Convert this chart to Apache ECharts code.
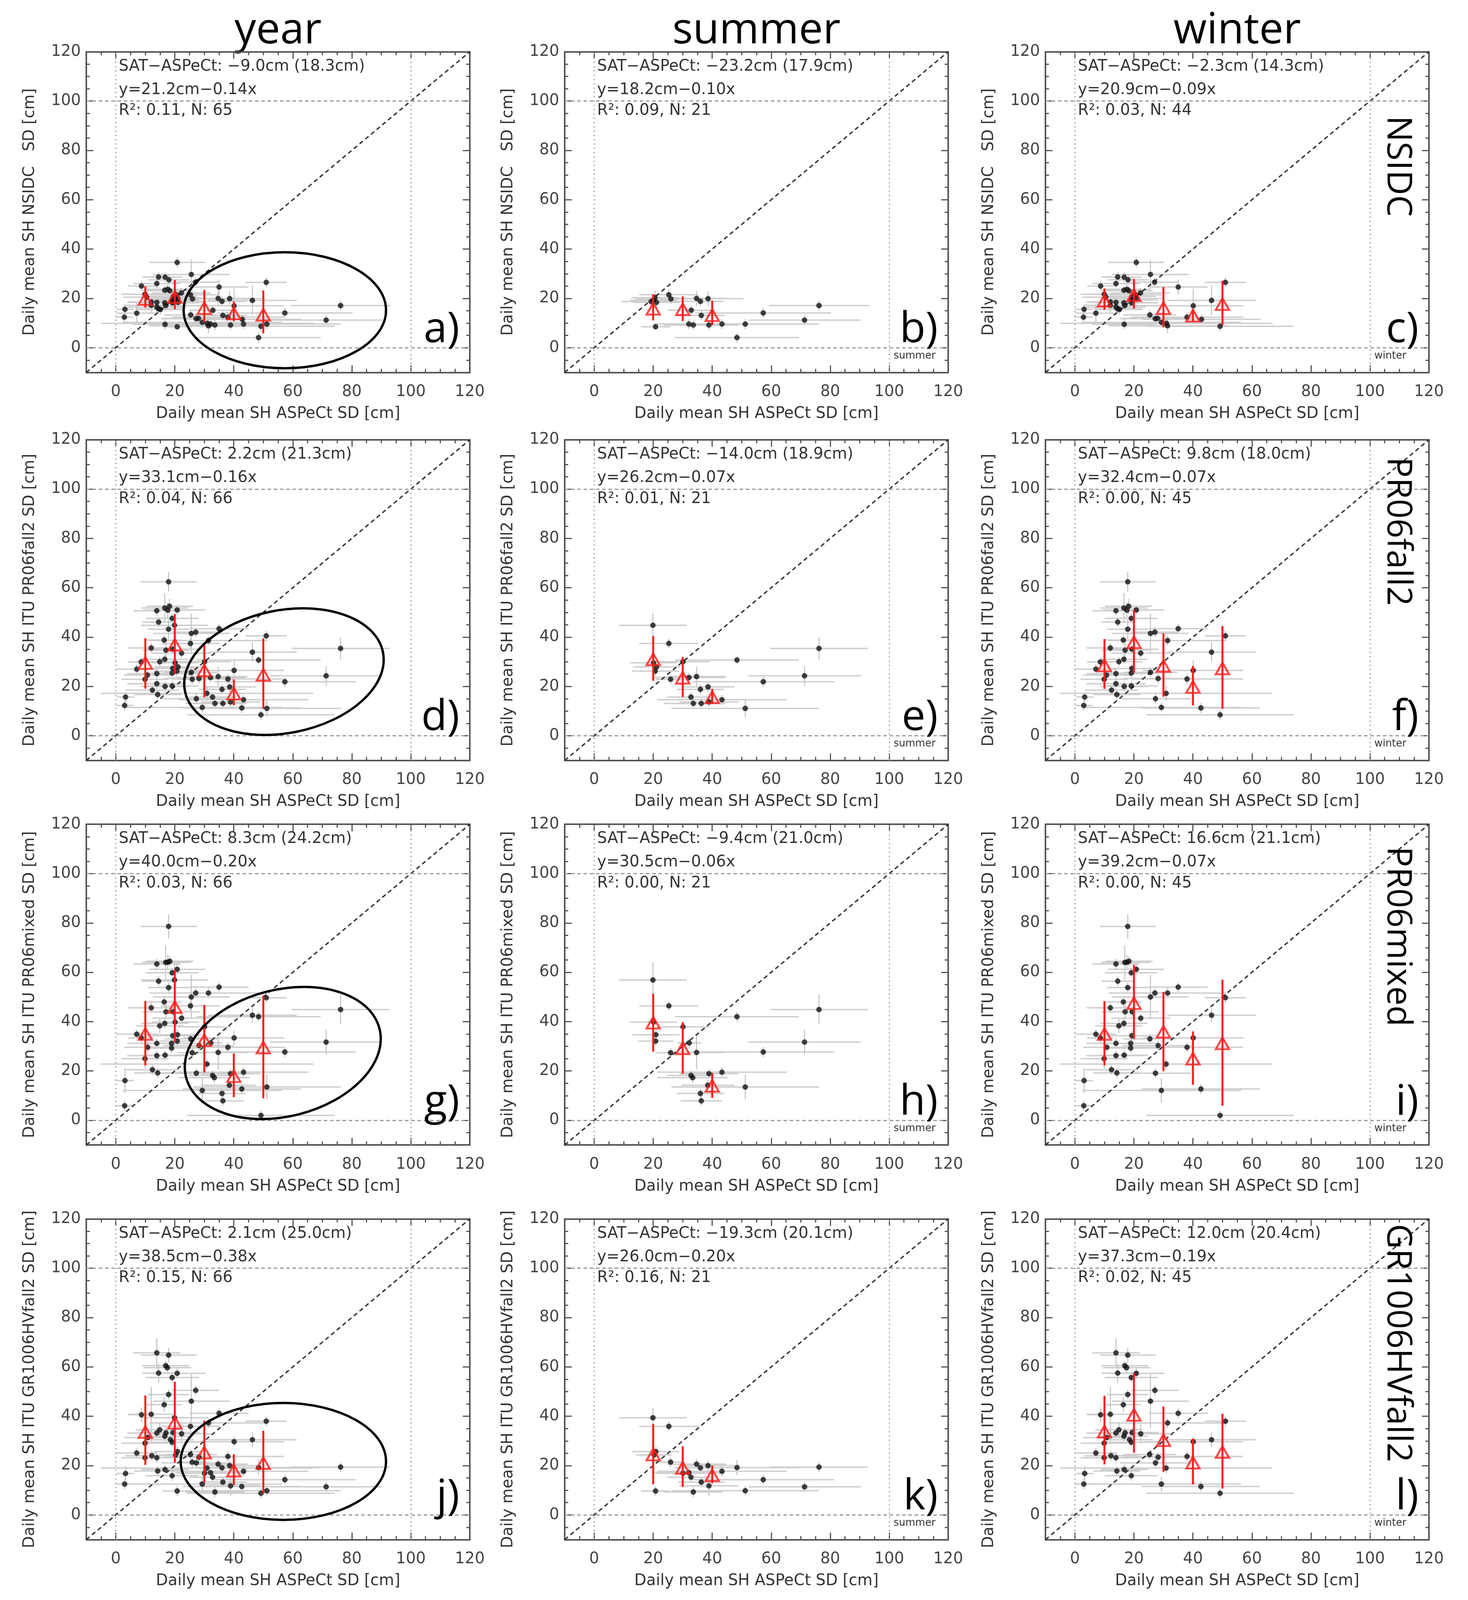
<!DOCTYPE html>
<html>
<head>
<meta charset="UTF-8">
<title>SAT vs ASPeCt snow depth</title>
<script src="https://cdn.jsdelivr.net/npm/echarts@6/dist/echarts.min.js"></script>
<style>html,body,#container{width:100%;height:100%;margin:0;padding:0;background:#fff;}</style>
</head>
<body>
<div id="container"></div>
<script>
// each point: [ASPeCt SD, SAT SD, x error, y error]  (cm)
var nsidcSummer = [[25.3,21.5,10,2],[26.0,19.8,12,2],[20.6,20.3,8,3],[19.3,18.7,10,2],[21.1,18.4,8,2],[34.7,20.0,10,3],[36.0,18.8,8,2],[38.6,19.9,12,3],[32.9,15.2,8,2],[36.3,13.1,8,2],[76.2,17.1,17,2],[57.3,14.1,23,2],[71.3,11.2,19,2],[32.1,9.6,12,2],[33.6,9.2,10,2],[38.9,9.2,10,2],[43.3,9.6,22,2],[51.2,9.6,25,2],[20.8,8.5,5,1],[48.4,4.1,21,2],[20.1,19.3,8,2]];
var nsidcWinter = [[20.8,34.6,9.5,2],[25.6,29.7,13,6],[14.5,28.7,5.5,2],[16.7,28.6,6,2],[18.0,27.5,7,2],[27.0,26.6,8,2],[51.0,26.5,7,2],[13.9,26.0,8,2],[8.7,25.0,4.5,2],[35.0,24.6,10,3],[16.6,23.3,8,2],[17.6,23.7,8,2],[18.3,23.1,8,2],[22.2,22.2,10,2],[9.9,21.7,8,2],[46.3,19.2,15,6],[12.0,18.6,8,2],[13.9,18.4,10,2],[16.6,18.2,8,2],[19.2,19.3,9,2],[19.2,18.2,9,2],[12.0,17.2,9,3],[16.9,17.1,8,2],[13.9,16.5,10,2],[14.5,15.8,8,2],[15.1,15.5,8,2],[3.1,15.6,3,2],[40.1,17.0,17,7],[7.1,14.0,7,4],[2.9,12.4,3,2],[25.4,13.3,9,2],[27.2,11.8,12,2],[28.0,11.9,12,2],[38.0,12.4,19,2],[42.9,11.5,20,2],[29.3,10.3,27,2],[31.0,9.9,36,2],[31.4,8.9,20,3],[16.7,9.5,11,2],[49.2,8.7,25,2],[10.5,20.5,8,2],[20.5,21.5,9,2],[21.0,20.0,9,2],[19.5,20.8,8,2]];

var fall2Summer = [[19.9,44.8,11.4,5],[25.3,37.4,10,2],[76.2,35.4,16.6,4.5],[48.4,30.7,21,1.5],[30.1,30.0,9,2],[21.1,27.9,8,2],[20.7,26.2,8,2],[71.3,24.3,19,4],[34.7,24.0,10,4],[32.1,23.6,12,2],[25.9,22.9,5,2],[57.3,21.9,24,2],[38.6,19.8,9,2],[36.0,18.8,8,2],[32.8,15.7,8,2],[43.3,14.6,22,2],[38.9,13.7,10,2],[33.6,13.1,10,2],[36.3,13.1,8,2],[51.2,11.1,25,3.5],[20.1,29.6,8,2]];
var fall2Winter = [[17.9,62.4,9.5,4],[16.6,51.8,8,6],[17.6,50.9,8,3],[13.9,50.7,8,2],[20.8,51.0,9.5,2],[19.1,47.6,9,2],[14.5,46.1,5.5,2],[17.9,43.2,7,4],[35.0,43.4,10,2],[25.6,41.5,13,8],[27.1,42.0,8,2],[51.0,40.5,7,2],[31.4,38.6,20,2],[16.4,38.8,6,2],[12.0,35.6,8,2],[17.0,34.7,8,3],[19.3,35.1,9,2],[22.3,33.5,10,2],[46.3,33.9,15,4],[16.6,31.0,8,2],[14.9,30.0,8,2],[8.6,29.9,4.5,2],[7.1,27.0,7,2],[19.3,27.3,9,2],[25.6,25.7,9,2],[10.7,24.6,8,2],[13.9,25.2,10,2],[19.1,25.4,9,2],[40.1,26.5,17,4],[28.2,23.2,12,2],[38.0,23.0,19,2],[9.9,22.9,8,2],[13.9,21.1,10,2],[16.7,20.0,8,2],[19.1,20.2,9,2],[12.4,18.5,9,2],[14.2,16.7,8,2],[30.9,17.2,36,3],[3.3,15.7,3,2],[27.3,15.0,12,2],[3.0,12.3,3,2],[29.3,11.5,27,2],[42.7,11.3,20,2],[49.2,8.5,25,2],[18.2,52.5,8,3]];

var mixedSummer = [[19.9,56.9,11.4,7],[25.3,46.4,10,2],[76.2,44.9,16.6,6],[48.4,42.0,21,2],[30.1,37.9,9,2],[20.9,34.7,8,2],[20.8,32.1,6,2],[32.2,31.4,4,2],[71.3,31.7,19,5],[25.9,27.4,5,2],[34.7,27.5,10,7],[57.3,27.7,24,2],[38.9,18.9,10,2],[43.3,19.5,22,2],[32.8,18.2,8,2],[33.4,17.3,12,2],[38.5,14.2,9,2],[51.2,13.5,25,5],[36.0,10.9,8,2],[36.3,7.9,7,2],[20.1,39.8,8,2]];
var mixedWinter = [[17.9,78.6,9.5,5],[13.9,63.4,8,2],[16.9,64.0,8,7],[17.6,64.1,8,3],[20.8,61.2,9.5,2],[19.1,59.8,9,2],[14.5,56.4,5.5,2],[17.9,53.8,7,2],[35.0,54.0,10,2],[27.1,51.6,8,2],[31.4,51.6,20,2],[25.6,50.0,13,9],[51.0,49.7,7,2],[16.4,48.0,6,2],[12.0,45.6,8,2],[17.0,44.0,8,3],[19.4,44.0,9,2],[22.3,41.4,10,2],[46.3,42.6,15,3],[16.6,39.3,8,2],[14.9,38.3,8,3],[7.1,34.9,7,2],[8.6,33.4,4.5,2],[19.3,34.3,9,2],[25.4,33.0,9,2],[40.1,33.4,17,3],[13.9,31.2,10,2],[18.9,31.2,9,2],[10.8,29.6,8,2],[18.9,29.3,9,2],[28.2,30.3,12,2],[38.0,29.6,19,2],[13.9,26.2,10,2],[16.7,26.4,8,2],[9.9,25.0,8,4],[30.9,22.8,36,2],[12.4,20.5,9,2],[14.2,19.2,8,2],[27.3,19.1,12,2],[3.1,16.1,3,5],[29.3,12.1,27,5],[42.7,12.7,20,2],[3.0,5.9,3,2],[49.2,2.0,25,2],[18.3,64.5,8,2]];

var grSummer = [[19.9,39.4,11.4,4],[25.3,35.9,10,2],[20.9,25.7,8,2],[20.3,24.3,6,2],[25.9,21.4,5,2],[34.7,20.6,10,2],[36.0,19.1,8,2],[38.6,20.0,9,2],[48.4,19.2,21,3],[76.2,19.4,16.6,2],[43.3,17.7,22,2],[30.1,16.9,9,2],[32.1,17.1,12,2],[32.8,15.3,8,2],[57.3,14.3,24,2],[36.3,13.3,8,2],[38.9,11.8,10,4],[71.3,11.4,19,2],[20.8,9.7,5,2],[33.6,9.3,10,2],[51.2,9.8,25,2]];
var grWinter = [[13.9,65.7,8,6],[17.9,64.8,9.5,3],[16.9,60.5,8,2],[17.5,59.7,8,2],[14.5,57.5,5.5,4],[20.8,57.4,9.5,2],[19.1,55.7,9,2],[27.1,50.5,8,2],[17.9,48.8,7,2],[25.6,46.1,13,11],[16.4,44.7,6,3],[8.7,40.6,4.5,3],[12.0,40.8,8,11],[35.0,41.2,10,2],[51.0,38.0,7,2],[31.4,37.3,20,2],[14.9,34.5,8,3],[13.9,33.2,10,2],[17.0,33.3,8,2],[16.6,31.9,8,2],[19.4,33.4,9,2],[22.3,32.9,10,4],[10.8,31.4,8,2],[9.9,29.1,8,2],[19.1,29.5,9,2],[46.3,30.5,15,3],[40.1,29.7,17,2],[7.1,25.1,7,2],[9.9,23.2,8,2],[12.2,24.0,9,2],[13.9,23.2,10,2],[25.3,24.5,9,2],[28.2,23.4,12,2],[38.0,23.7,19,2],[27.3,21.1,12,2],[30.9,19.0,36,2],[3.3,16.8,3,3],[14.2,17.8,8,2],[16.7,18.4,8,2],[19.1,15.9,9,2],[3.0,12.5,3,2],[29.3,12.5,27,3],[42.7,11.5,20,2],[49.2,8.8,25,2],[18.5,30.5,8,2]];

// binned means: [bin centre, mean, lower, upper]
var binsA = [[10,19.8,16.3,24.8],[20,20.6,15.6,27.4],[30,16.1,10.3,23.4],[40,13.9,10.8,18.7],[50,13.4,5.8,23.2]];
var binsB = [[20,15.8,11.1,21.7],[30,15.6,10.8,20.8],[40,13.2,9.2,19.1]];
var binsC = [[10,19.1,15.4,24.0],[20,21.3,15.9,27.9],[30,16.1,8.3,24.6],[40,13.0,10.6,15.6],[50,17.7,9.2,27.1]];
var binsD = [[10,29.5,19.1,39.5],[20,36.9,25.0,49.3],[30,26.5,15.6,37.7],[40,17.1,12.4,22.8],[50,24.7,10.9,39.5]];
var binsE = [[20,31.0,22.3,40.4],[30,23.5,15.7,31.9],[40,15.6,13.1,19.0]];
var binsF = [[10,28.5,19.0,39.2],[20,37.9,25.5,50.9],[30,28.3,15.8,41.5],[40,19.8,12.3,28.3],[50,27.3,10.9,44.5]];
var binsG = [[10,35.0,22.3,48.4],[20,45.9,31.7,60.8],[30,32.5,19.4,46.8],[40,17.9,9.4,27.1],[50,29.5,8.9,50.6]];
var binsH = [[20,39.6,27.8,51.3],[30,29.2,18.9,39.8],[40,14.0,9.1,19.2]];
var binsI = [[10,35.0,22.3,48.3],[20,47.5,33.0,63.0],[30,35.9,19.9,52.1],[40,25.0,14.4,36.0],[50,31.2,5.9,57.0]];
var binsJ = [[10,33.6,20.3,48.4],[20,37.4,21.2,54.0],[30,25.3,13.2,38.3],[40,18.0,12.1,24.6],[50,21.0,8.6,34.1]];
var binsK = [[20,24.5,12.4,36.9],[30,19.1,11.4,27.8],[40,16.1,12.8,20.0]];
var binsL = [[10,33.8,20.5,48.3],[20,40.6,25.2,57.4],[30,30.3,17.4,44.0],[40,21.2,12.4,30.9],[50,25.5,10.7,41.0]];

// ellipses in the year column: [cx, cy, rx, ry, tilt deg]
var ellipseA = [[57.3, 15.2, 34.3, 23.5, 0]];
var ellipseD = [[57.0, 26.0, 34.2, 24.9, 11]];
var ellipseG = [[56.6, 27.3, 33.8, 25.7, 14]];
var ellipseJ = [[56.8, 21.7, 34.8, 23.7, 0]];

var seasons = ['year', 'summer', 'winter'];
var products = ['NSIDC', 'PR06fall2', 'PR06mixed', 'GR1006HVfall2'];
var productLabelTop = [94, 113, 111, 118];
var yNames = ['Daily mean SH NSIDC   SD [cm]', 'Daily mean SH ITU PR06fall2 SD [cm]', 'Daily mean SH ITU PR06mixed SD [cm]', 'Daily mean SH ITU GR1006HVfall2 SD [cm]'];
var xName = 'Daily mean SH ASPeCt SD [cm]';
var letters = [['a)', 'b)', 'c)'], ['d)', 'e)', 'f)'], ['g)', 'h)', 'i)'], ['j)', 'k)', 'l)']];
var stats = [
  [['SAT\u2212ASPeCt: \u22129.0cm (18.3cm)', 'y=21.2cm\u22120.14x', 'R\u00b2: 0.11, N: 65'],
   ['SAT\u2212ASPeCt: \u221223.2cm (17.9cm)', 'y=18.2cm\u22120.10x', 'R\u00b2: 0.09, N: 21'],
   ['SAT\u2212ASPeCt: \u22122.3cm (14.3cm)', 'y=20.9cm\u22120.09x', 'R\u00b2: 0.03, N: 44']],
  [['SAT\u2212ASPeCt: 2.2cm (21.3cm)', 'y=33.1cm\u22120.16x', 'R\u00b2: 0.04, N: 66'],
   ['SAT\u2212ASPeCt: \u221214.0cm (18.9cm)', 'y=26.2cm\u22120.07x', 'R\u00b2: 0.01, N: 21'],
   ['SAT\u2212ASPeCt: 9.8cm (18.0cm)', 'y=32.4cm\u22120.07x', 'R\u00b2: 0.00, N: 45']],
  [['SAT\u2212ASPeCt: 8.3cm (24.2cm)', 'y=40.0cm\u22120.20x', 'R\u00b2: 0.03, N: 66'],
   ['SAT\u2212ASPeCt: \u22129.4cm (21.0cm)', 'y=30.5cm\u22120.06x', 'R\u00b2: 0.00, N: 21'],
   ['SAT\u2212ASPeCt: 16.6cm (21.1cm)', 'y=39.2cm\u22120.07x', 'R\u00b2: 0.00, N: 45']],
  [['SAT\u2212ASPeCt: 2.1cm (25.0cm)', 'y=38.5cm\u22120.38x', 'R\u00b2: 0.15, N: 66'],
   ['SAT\u2212ASPeCt: \u221219.3cm (20.1cm)', 'y=26.0cm\u22120.20x', 'R\u00b2: 0.16, N: 21'],
   ['SAT\u2212ASPeCt: 12.0cm (20.4cm)', 'y=37.3cm\u22120.19x', 'R\u00b2: 0.02, N: 45']]
];
var majorTicks = [0, 20, 40, 60, 80, 100, 120];
var oneToOne = [-10, 120];
var refLines = [0, 100];

var summerDots = [nsidcSummer, fall2Summer, mixedSummer, grSummer];
var winterDots = [nsidcWinter, fall2Winter, mixedWinter, grWinter];
var binsAll = [[binsA, binsB, binsC], [binsD, binsE, binsF], [binsG, binsH, binsI], [binsJ, binsK, binsL]];
var ellipses = [ellipseA, ellipseD, ellipseG, ellipseJ];

var chart = echarts.init(document.getElementById('container'));

// layout, designed for a 3759 x 4610 page; vertical positions follow the real page height
var sy = chart.getHeight() / 4610;
var gridLeft = [221, 1446, 2677];
var gridTop = [149, 1267, 2375, 3512];
var gridW = 982, gridH = 924;
var axisColor = '#555';
var txtFont = 'DejaVu Sans';
var bigFont = 'Open Sans';

function makeAxes(dim, g, name) {
  var base = {gridIndex: g, type: 'value', min: -10, max: 120, splitLine: {show: false}};
  var pos = dim === 'x' ? ['bottom', 'top'] : ['left', 'right'];
  var tickStyle = {color: axisColor, width: 3};
  function major(p, withLabel) {
    return Object.assign({}, base, {
      position: p,
      axisLine: {show: true, onZero: false, lineStyle: {color: axisColor, width: 4}},
      axisTick: {show: true, inside: true, length: 18, customValues: majorTicks, lineStyle: tickStyle},
      axisLabel: withLabel ? {show: true, customValues: majorTicks, margin: dim === 'x' ? 30 : 14,
        fontSize: 40, fontFamily: txtFont, color: '#444'} : {show: false},
      name: withLabel ? name : '',
      nameLocation: 'middle',
      nameGap: dim === 'x' ? 86 : 124,
      nameTextStyle: {fontSize: 40, fontFamily: txtFont, color: '#333'}
    });
  }
  function minor(p) {
    return Object.assign({}, base, {
      position: p, interval: 5,
      axisLine: {show: false, onZero: false},
      axisTick: {show: true, inside: true, length: 9, lineStyle: tickStyle},
      axisLabel: {show: false}
    });
  }
  return [major(pos[0], true), minor(pos[0]), major(pos[1], false), minor(pos[1])];
}

function renderErr(params, api) {
  var x = api.value(0), y = api.value(1), xe = api.value(2), ye = api.value(3);
  var l = api.coord([x - xe, y]), r = api.coord([x + xe, y]);
  var b = api.coord([x, y - ye]), t = api.coord([x, y + ye]);
  return {type: 'group', children: [
    {type: 'line', shape: {x1: l[0], y1: l[1], x2: r[0], y2: r[1]}, style: {stroke: '#cecece', lineWidth: 3.5}},
    {type: 'line', shape: {x1: b[0], y1: b[1], x2: t[0], y2: t[1]}, style: {stroke: '#c0c0c0', lineWidth: 2.5}}
  ]};
}

function renderBin(params, api) {
  var x = api.value(0);
  var lo = api.coord([x, api.value(2)]), hi = api.coord([x, api.value(3)]);
  return {type: 'line', shape: {x1: lo[0], y1: lo[1], x2: hi[0], y2: hi[1]}, style: {stroke: '#ff1a1a', lineWidth: 5}};
}

function renderEllipse(params, api) {
  var c = api.coord([api.value(0), api.value(1)]);
  var sz = api.size([api.value(2), api.value(3)]);
  return {type: 'ellipse', x: c[0], y: c[1], rotation: api.value(4) * Math.PI / 180,
    shape: {cx: 0, cy: 0, rx: sz[0], ry: sz[1]},
    style: {fill: 'none', stroke: '#000', lineWidth: 6}};
}

function textSeries(ax, items) {
  return Object.assign({
    type: 'custom', silent: true, z: 10,
    data: items.map(function (it) { return [it.x, it.y]; }),
    encode: {x: 0, y: 1},
    renderItem: function (params, api) {
      var it = items[params.dataIndex];
      var p = api.coord([api.value(0), api.value(1)]);
      return {type: 'text', x: p[0], y: p[1], rotation: it.rot || 0,
        style: {text: it.text, fontSize: it.size, fontFamily: it.font, fill: it.color || '#333',
          align: it.align || 'left', verticalAlign: it.va || 'middle'}};
    }
  }, ax);
}

var grids = [], xAxes = [], yAxes = [], series = [], graphics = [];

for (var r = 0; r < 4; r++) {
  for (var c = 0; c < 3; c++) {
    var g = r * 3 + c;
    grids.push({left: gridLeft[c], top: gridTop[r] * sy, width: gridW, height: gridH * sy,
      containLabel: false, outerBoundsMode: 'none'});
    xAxes = xAxes.concat(makeAxes('x', g, xName));
    yAxes = yAxes.concat(makeAxes('y', g, yNames[r]));
    var ax = {xAxisIndex: 4 * g, yAxisIndex: 4 * g};
    var pts = c === 0 ? summerDots[r].concat(winterDots[r]) : (c === 1 ? summerDots[r] : winterDots[r]);
    var bins = binsAll[r][c];

    series.push(Object.assign({type: 'custom', silent: true, z: 1, renderItem: renderErr,
      encode: {x: 0, y: 1}, data: pts}, ax));

    series.push(Object.assign({type: 'line', silent: true, z: 2, showSymbol: false,
      data: oneToOne.map(function (v) { return [v, v]; }),
      lineStyle: {color: '#333', width: 3.5, type: [11, 8]},
      markLine: {silent: true, symbol: ['none', 'none'], label: {show: false},
        lineStyle: {color: '#999', width: 3},
        data: refLines.map(function (v) { return {xAxis: v, lineStyle: {type: [3, 8]}}; })
          .concat(refLines.map(function (v) { return {yAxis: v, lineStyle: {type: [9, 7]}}; }))}
    }, ax));

    series.push(Object.assign({type: 'scatter', silent: true, z: 3, symbol: 'circle', symbolSize: 14,
      itemStyle: {color: '#111'}, data: pts.map(function (p) { return [p[0], p[1]]; })}, ax));

    series.push(Object.assign({type: 'custom', silent: true, z: 4, renderItem: renderBin,
      encode: {x: 0, y: 1}, data: bins}, ax));

    series.push(Object.assign({type: 'scatter', silent: true, z: 5, symbol: 'triangle', symbolSize: [34, 30],
      itemStyle: {color: 'rgba(255,255,255,0)', borderColor: '#ff1a1a', borderWidth: 5},
      data: bins.map(function (b) { return [b[0], b[1]]; })}, ax));

    if (c === 0) {
      series.push(Object.assign({type: 'custom', silent: true, z: 6, renderItem: renderEllipse,
        encode: {x: 0, y: 1}, data: ellipses[r]}, ax));
    }

    var items = [
      {x: 1, y: 114, text: stats[r][c][0], size: 40, font: txtFont},
      {x: 1, y: 104.5, text: stats[r][c][1], size: 40, font: txtFont},
      {x: 1, y: 96, text: stats[r][c][2], size: 40, font: txtFont},
      {x: 116.5, y: 7.1, text: letters[r][c], size: 108, font: bigFont, color: '#000', align: 'right'}
    ];
    if (c > 0) items.push({x: 101.5, y: -3.3, text: seasons[c], size: 26, font: txtFont});
    if (c === 2) items.push({x: 109.3, y: productLabelTop[r], text: products[r], size: 88, font: bigFont,
      color: '#000', rot: -Math.PI / 2});
    series.push(textSeries(ax, items));
  }
}

for (var k = 0; k < 3; k++) {
  graphics.push({type: 'text', x: gridLeft[k] + gridW / 2, y: 90 * sy, silent: true,
    style: {text: seasons[k], fontSize: 110, fontFamily: bigFont, fill: '#000', align: 'center', verticalAlign: 'middle'}});
}

chart.setOption({
  backgroundColor: '#fff',
  animation: false,
  grid: grids,
  xAxis: xAxes,
  yAxis: yAxes,
  series: series,
  graphic: graphics
});
</script>
</body>
</html>
